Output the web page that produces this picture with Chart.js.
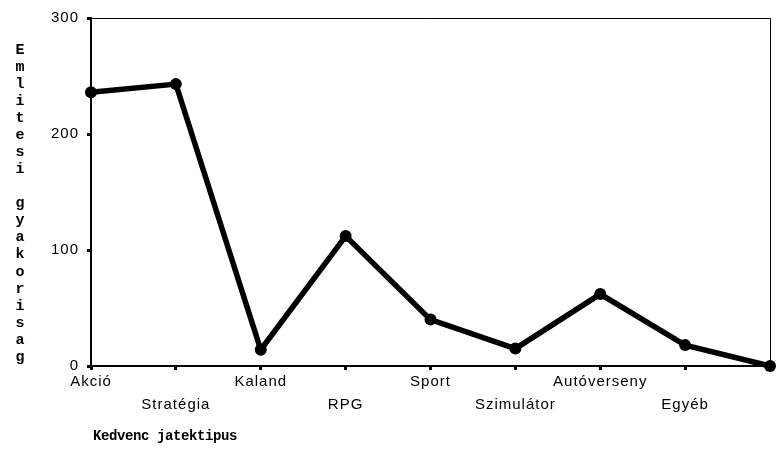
<!DOCTYPE html>
<html>
<head>
<meta charset="utf-8">
<script src="https://cdn.jsdelivr.net/npm/chart.js@4"></script>
<style>
  html, body { margin: 0; padding: 0; background: #fff; }
  canvas { display: block; }
</style>
</head>
<body>
<canvas id="c" width="776" height="451"></canvas>
<script>
// Kedvenc játéktípusok – említési gyakoriság
const categories = ['Akció', 'Stratégia', 'Kaland', 'RPG', 'Sport', 'Szimulátor', 'Autóverseny', 'Egyéb', ''];
const mentions = [236, 243, 14, 112, 40, 15, 62, 18, 0];
const yTicks = [0, 100, 200, 300];
const xTitle = 'Kedvenc jatektipus';
const yTitle = 'Emlitesi gyakorisag';

const SPACING = '1px';
const MONO = '"Liberation Mono", "Courier New", monospace';

// keeps the slightly wide letter spacing of the tick labels
const spacingPlugin = {
  id: 'spacing',
  beforeUpdate(chart) { chart.ctx.letterSpacing = SPACING; },
  beforeDraw(chart) { chart.ctx.letterSpacing = SPACING; }
};

// thin top/right frame lines, the stacked vertical y title and the x title
const framePlugin = {
  id: 'frame',
  beforeDatasetsDraw(chart) {
    const { ctx, chartArea: a } = chart;
    ctx.save();
    ctx.strokeStyle = '#000';
    ctx.lineWidth = 1;
    ctx.beginPath();
    ctx.moveTo(a.left, a.top + 0.5);
    ctx.lineTo(a.right + 0.5, a.top + 0.5);
    ctx.lineTo(a.right + 0.5, a.bottom);
    ctx.stroke();
    ctx.restore();
  },
  afterDraw(chart) {
    const ctx = chart.ctx;
    ctx.save();
    ctx.letterSpacing = '0px';
    ctx.fillStyle = '#000';
    ctx.font = 'bold 15px ' + MONO;
    ctx.textAlign = 'center';
    ctx.textBaseline = 'middle';
    const letters = yTitle.split('');
    const y0 = 50, y1 = 357;
    const step = (y1 - y0) / (letters.length - 1);
    letters.forEach((ch, i) => {
      if (ch !== ' ') ctx.fillText(ch, 20, y0 + i * step);
    });

    ctx.font = 'bold 14px ' + MONO;
    ctx.letterSpacing = '-0.4px';
    ctx.textAlign = 'left';
    ctx.fillText(xTitle, 93, 436);
    ctx.restore();
  }
};

new Chart(document.getElementById('c'), {
  type: 'line',
  data: {
    labels: categories,
    datasets: [{
      data: mentions,
      borderColor: '#000',
      backgroundColor: '#000',
      borderWidth: 5.5,
      pointRadius: 6,
      pointBackgroundColor: '#000',
      pointBorderWidth: 0,
      tension: 0,
      clip: false
    }]
  },
  options: {
    responsive: false,
    animation: false,
    devicePixelRatio: 1,
    layout: { padding: { top: 18, right: 5, left: 0, bottom: 0 } },
    plugins: { legend: { display: false }, tooltip: { enabled: false } },
    scales: {
      x: {
        offset: false,
        grid: { drawOnChartArea: false, tickLength: 4, tickWidth: 3, tickColor: '#000' },
        border: { color: '#000', width: 2 },
        ticks: {
          autoSkip: false,
          maxRotation: 0,
          minRotation: 0,
          padding: 1,
          color: '#000',
          font: { family: '"Liberation Sans", Arial, sans-serif', size: 15, lineHeight: 1.5 },
          callback: (v, i) => (i % 2 ? ['', categories[i]] : categories[i])
        },
        title: { display: false },
        afterFit: s => { s.height = 85; }
      },
      y: {
        min: 0,
        max: 300,
        afterBuildTicks: s => { s.ticks = yTicks.map(v => ({ value: v })); },
        grid: { drawOnChartArea: false, tickLength: 4, tickWidth: 3, tickColor: '#000' },
        border: { color: '#000', width: 2 },
        ticks: {
          padding: 8,
          color: '#000',
          font: { family: '"Liberation Sans", Arial, sans-serif', size: 15 }
        },
        afterFit: s => { s.width = 91; }
      }
    }
  },
  plugins: [spacingPlugin, framePlugin]
});
</script>
</body>
</html>
